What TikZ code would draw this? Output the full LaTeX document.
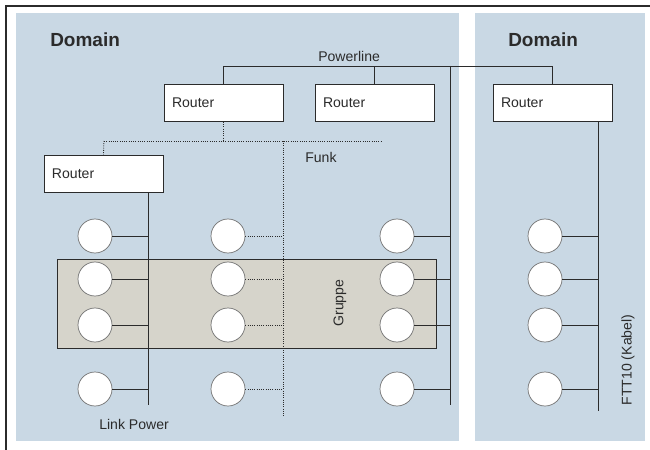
\documentclass[tikz,border=0pt]{standalone}
\usepackage{fontspec}
\setmainfont{Liberation Sans}
\definecolor{panelblue}{HTML}{C9D8E4}
\definecolor{groupgrey}{HTML}{D6D4CB}
\definecolor{ink}{HTML}{2B2B2B}
\begin{document}
\begin{tikzpicture}[x=0.25mm,y=-0.25mm,
    router/.style={draw=ink,fill=white,line width=0.6pt,minimum width=29.75mm,
      minimum height=9.25mm,inner xsep=2mm,text width=25.75mm,align=left,
      font=\fontsize{10}{12}\selectfont,text=ink},
    station/.style={circle,draw=black!55,fill=white,line width=0.5pt,
      minimum size=8.5mm,inner sep=0pt},
    cable/.style={draw=ink,line width=0.6pt},
    radio/.style={draw=ink,line width=0.6pt,densely dotted},
    lbl/.style={inner sep=0pt,text=ink,font=\fontsize{10}{12}\selectfont},
    title/.style={inner sep=0pt,text=ink,font=\fontsize{13.5}{16}\selectfont\bfseries}]
  \useasboundingbox (0,0) rectangle (650,450);
  % frame and the two domains
  \draw[ink,line width=0.8pt] (650,6) -- (6,6) -- (6,450);
  \fill[panelblue] (16,13) rectangle (459,441);
  \fill[panelblue] (475,13) rectangle (645,441);
  \fill[groupgrey,draw=ink,line width=0.6pt] (57,259) rectangle (436,348);
  \node[title,anchor=west] (dom1) at (50,40) {Domain};
  \node[title,anchor=west] (dom2) at (508,40) {Domain};
  % routers
  \node[router] (r1) at (223.5,103) {Router};
  \node[router] (r2) at (374.5,103) {Router};
  \node[router] (r3) at (103.5,173.5) {Router};
  \node[router] (r4) at (552.5,103) {Router};
  % bus end points
  \coordinate (bus) at (0,66);
  \coordinate (pwBot) at (450,405);
  \coordinate (lpBot) at (148,405);
  \coordinate (fkL) at (104,141);
  \coordinate (fkR) at (381,141);
  \coordinate (fkBot) at (283,417);
  \coordinate (ftBot) at (598,411);
  % powerline
  \draw[cable] (r1.north) |- (bus -| r4.north) -- (r4.north);
  \draw[cable] (r2.north) -- (r2.north |- bus);
  \draw[cable] (bus -| pwBot) -- (pwBot);
  \node[lbl,anchor=west] (pw) at (318,56) {Powerline};
  % funk
  \draw[radio] (r1.south) -- (r1.south |- fkR);
  \draw[radio] (fkL) -- (fkR);
  \draw[radio] (fkL) -- (r3.north);
  \draw[radio] (fkL -| fkBot) -- (fkBot);
  \node[lbl,anchor=west] (fk) at (305,157) {Funk};
  % link power and FTT10
  \draw[cable] (r3.south -| lpBot) -- (lpBot);
  \draw[cable] (r4.south -| ftBot) -- (ftBot);
  \node[lbl,anchor=west] (lp) at (99,424) {Link Power};
  \node[lbl,rotate=90] (ft) at (628,360) {FTT10 (Kabel)};
  \node[lbl,rotate=90] (grp) at (340,303) {Gruppe};
  % stations
  \foreach \r/\y in {1/236,2/279,3/325,4/389}{
    \node[station] (a\r) at (95,\y) {};
    \node[station] (b\r) at (228,\y) {};
    \node[station] (c\r) at (397,\y) {};
    \node[station] (d\r) at (545,\y) {};
    \draw[cable] (a\r) -- (a\r -| lpBot);
    \draw[radio] (b\r) -- (b\r -| fkBot);
    \draw[cable] (c\r) -- (c\r -| pwBot);
    \draw[cable] (d\r) -- (d\r -| ftBot);
  }
\end{tikzpicture}
\end{document}
